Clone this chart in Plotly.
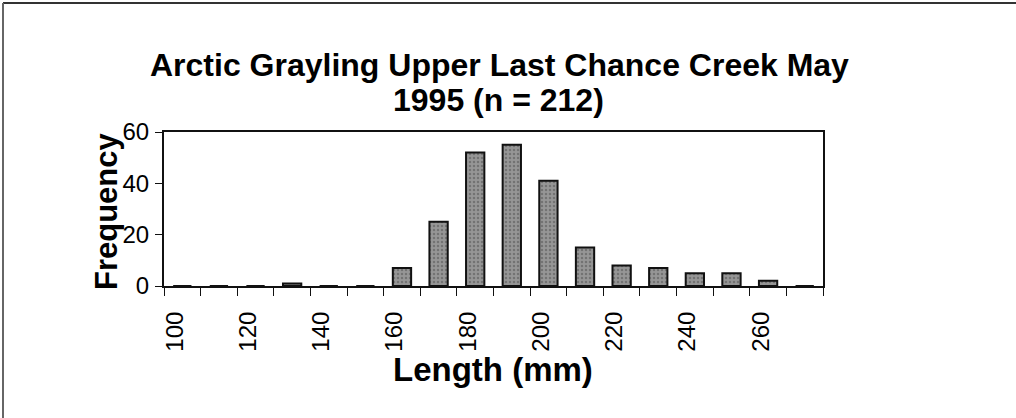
import plotly.graph_objects as go

lengths = [100, 110, 120, 130, 140, 150, 160, 170, 180, 190, 200, 210, 220, 230, 240, 250, 260, 270]
frequency = [0, 0, 0, 1, 0, 0, 7, 25, 52, 55, 41, 15, 8, 7, 5, 5, 2, 0]
tick_labels = [100, 120, 140, 160, 180, 200, 220, 240, 260]
y_ticks = [0, 20, 40, 60]

W, H = 1016, 418
L, R, T, B = 164, 193, 132, 132
pw, ph = W - L - R, H - T - B

def px(x):
    return (x - L) / pw

def py(y):
    return (H - B - y) / ph

FONT = "Arial, Liberation Sans, Helvetica, sans-serif"

fig = go.Figure(go.Bar(
    x=lengths, y=frequency, width=5,
    marker=dict(color="#969696", line=dict(color="#111111", width=2),
                pattern=dict(shape=".", fgcolor="#505050", size=4, solidity=0.3)),
))

fig.update_layout(
    width=W, height=H,
    margin=dict(l=L, r=R, t=T, b=B, pad=0),
    paper_bgcolor="white", plot_bgcolor="white",
    showlegend=False,
    font=dict(family=FONT, color="black"),
    xaxis=dict(
        range=[95, 275], tickmode="array", tickvals=[v - 2 for v in tick_labels],
        ticktext=[str(v) for v in tick_labels], tickangle=-90,
        ticks="", showgrid=False, zeroline=False,
        showline=True, linecolor="#111111", linewidth=2, mirror=True,
        tickfont=dict(size=24, family=FONT), ticklabelstandoff=14,
        minor=dict(tick0=95, dtick=10, ticks="outside", ticklen=8, tickcolor="#111111", tickwidth=1, showgrid=False),
    ),
    yaxis=dict(
        range=[0, 60], tickmode="array", tickvals=y_ticks,
        ticks="outside", ticklen=7, tickcolor="#111111",
        showgrid=False, zeroline=False,
        showline=True, linecolor="#111111", linewidth=2, mirror=True,
        tickfont=dict(size=24, family=FONT), ticklabelstandoff=1,
    ),
    yaxis2=dict(
        range=[0, 60], overlaying="y", side="left", tickmode="array", tickvals=y_ticks,
        ticks="inside", ticklen=7, tickcolor="#111111", showticklabels=False,
        showgrid=False, zeroline=False, showline=False,
    ),
    annotations=[
        dict(text="<b>Arctic Grayling Upper Last Chance Creek May</b>", x=px(499), y=py(65),
             xref="paper", yref="paper", xanchor="center", yanchor="middle", showarrow=False,
             font=dict(size=32, family=FONT)),
        dict(text="<b>1995 (n = 212)</b>", x=px(498), y=py(100),
             xref="paper", yref="paper", xanchor="center", yanchor="middle", showarrow=False,
             font=dict(size=32, family=FONT)),
        dict(text="<b>Frequency</b>", x=px(106), y=py(211), textangle=-90,
             xref="paper", yref="paper", xanchor="center", yanchor="middle", showarrow=False,
             font=dict(size=31, family=FONT)),
        dict(text="<b>Length (mm)</b>", x=px(493), y=py(369),
             xref="paper", yref="paper", xanchor="center", yanchor="middle", showarrow=False,
             font=dict(size=33, family=FONT)),
    ],
    shapes=[
        dict(type="line", xref="paper", yref="paper", x0=px(3), x1=px(1016), y0=py(3), y1=py(3),
             line=dict(color="#333333", width=2)),
        dict(type="line", xref="paper", yref="paper", x0=px(3), x1=px(3), y0=py(3), y1=py(418),
             line=dict(color="#666666", width=2)),
    ],
)

fig.write_html("out.html", config={"displayModeBar": False},
               post_script="document.body.style.margin='0';document.body.style.overflow='hidden';")
